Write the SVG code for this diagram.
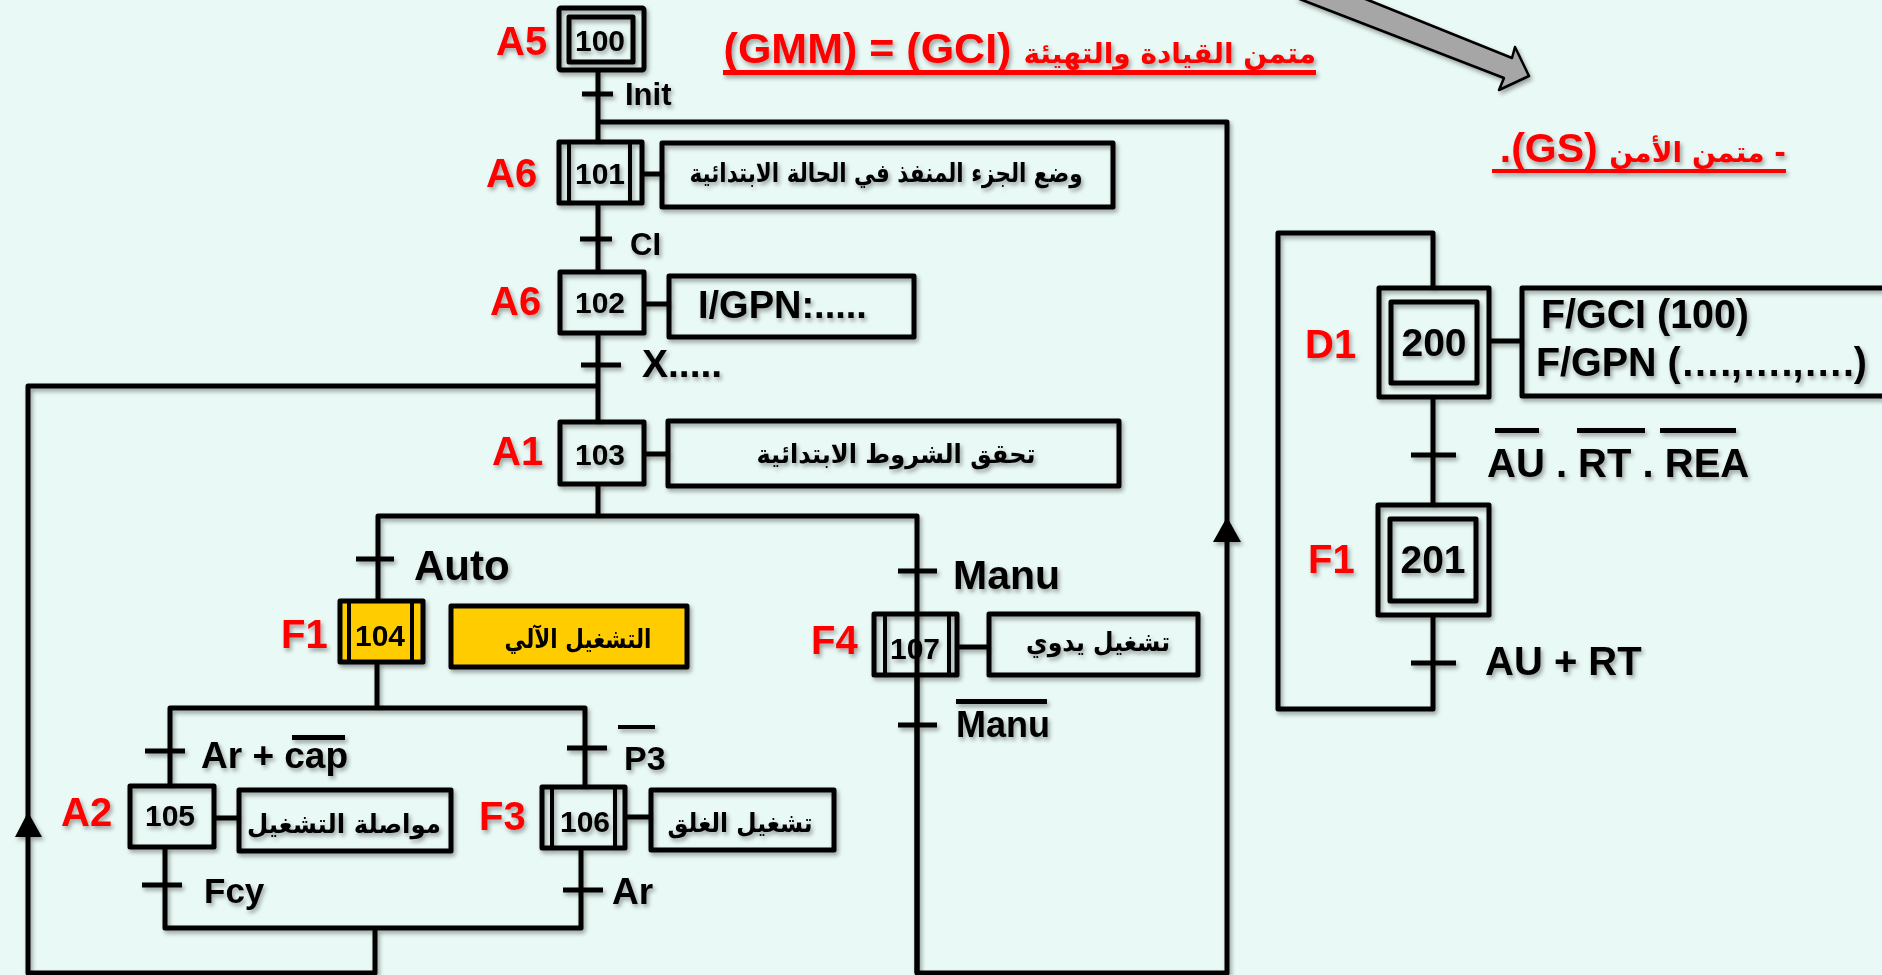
<svg xmlns="http://www.w3.org/2000/svg" width="1882" height="975" viewBox="0 0 1882 975">
<defs>
<filter id="shl" filterUnits="userSpaceOnUse" x="0" y="0" width="1882" height="975"><feDropShadow dx="2" dy="3" stdDeviation="2" flood-color="#000" flood-opacity="0.35"/></filter>
</defs>
<style>
.g{filter:url(#shl)}
.b{fill:none;stroke:#000;stroke-width:5;stroke-linejoin:round}
.y{fill:#FFCC00;stroke:#000;stroke-width:5;stroke-linejoin:round}
.l{fill:none;stroke:#000;stroke-width:5;stroke-linejoin:round}
.i{fill:none;stroke:#000;stroke-width:4}
text{font-family:"Liberation Sans","DejaVu Sans",sans-serif;font-weight:bold;fill:#000}
.n{font-size:30px;text-anchor:middle}
.N{font-size:39px;text-anchor:middle}
.r{font-size:40px;fill:#f00}
.ar{font-family:"DejaVu Sans",sans-serif;font-size:26px}
.arr{font-family:"DejaVu Sans",sans-serif;fill:#f00}
.ti{fill:#f00;text-anchor:start}
.t{font-size:31px}
.L{font-size:40px}
.ov{fill:#000}
.red{fill:#f00}
</style>
<rect width="1882" height="975" fill="#E9F9F5"/>
<g id="arrow-gs" class="g"><polygon points="1297,-2 1504,78 1499,90 1529,76 1515,47 1512,58 1363,-2" fill="#A6A6A6" stroke="#000" stroke-width="2.5" stroke-linejoin="round"/></g>
<g id="connectors" class="g">
<path class="l" d="M598 71V141M598 204V270M598 333V421M598 484V516M582 94H613M580 239H612M581 365H621"/>
<path class="l" d="M598 122H1227V973H917V516H378V599M377 663V708"/>
<path class="l" d="M598 386H28V973H375V928"/>
<path class="l" d="M170 784V708H585V786M165 847V928H581V849M356 559H394M145 751H185M567 748H607M142 885H182M563 890H603M917 676V973M898 571H937M898 725H937"/>
<path class="l" d="M642 174H662M644 304H669M644 454H668M214 818H238M626 817H650M958 647H988M1490 341H1521"/>
<path class="l" d="M1433 287V233H1278V709H1433V616M1433 398V504M1411 455H1456M1411 663H1456"/>
<polygon points="1227,517 1213,542 1241,542" fill="#000"/>
<polygon points="28,812 15,837 42,837" fill="#000"/>
</g>
<g id="title-gci" class="g"><text class="ti" direction="rtl" x="1316" y="63" font-size="43"><tspan class="arr" font-size="28">متمن القيادة والتهيئة</tspan> (GCI) = (GMM)</text><rect class="red" x="723" y="70" width="593" height="5"/></g>
<g id="title-gs" class="g"><text class="ti" direction="rtl" x="1786" y="162" font-size="41"><tspan class="arr" font-size="28">- متمن الأمن</tspan> (GS).</text><rect class="red" x="1492" y="169" width="294" height="4"/></g>
<g id="step-100" class="g"><rect class="b" x="559" y="8" width="85" height="62" rx="2"/><rect class="b" x="569" y="17" width="64" height="45" stroke-width="6"/><text class="n" x="600" y="51">100</text><text class="r" x="496" y="55">A5</text><text class="t" x="625" y="105">Init</text></g>
<g id="step-101" class="g"><rect class="b" x="559" y="142" width="83" height="61"/><path class="i" d="M569 142V203M630 142V203"/><text class="n" x="600" y="184">101</text><text class="r" x="486" y="187">A6</text><rect class="b" x="662" y="143" width="451" height="64"/><text class="ar" x="886" y="182" text-anchor="middle" textLength="393" lengthAdjust="spacingAndGlyphs">وضع الجزء المنفذ في الحالة الابتدائية</text><text class="t" x="630" y="255">CI</text></g>
<g id="step-102" class="g"><rect class="b" x="560" y="272" width="84" height="61"/><text class="n" x="600" y="313">102</text><text class="r" x="490" y="315">A6</text><rect class="b" x="669" y="276" width="245" height="61"/><text x="698" y="318" font-size="38">I/GPN:.....</text><text x="642" y="377" font-size="39">X.....</text></g>
<g id="step-103" class="g"><rect class="b" x="560" y="422" width="84" height="62"/><text class="n" x="600" y="465">103</text><text class="r" x="492" y="465">A1</text><rect class="b" x="668" y="421" width="451" height="65"/><text class="ar" x="896" y="463" text-anchor="middle" textLength="279" lengthAdjust="spacingAndGlyphs">تحقق الشروط الابتدائية</text></g>
<g id="step-104" class="g"><rect class="y" x="340" y="601" width="83" height="61"/><path class="i" d="M349 601V662M412 601V662"/><text class="n" x="380" y="646">104</text><text class="r" x="281" y="648">F1</text><rect class="y" x="451" y="606" width="236" height="61"/><text class="ar" x="578" y="648" text-anchor="middle" textLength="147" lengthAdjust="spacingAndGlyphs">التشغيل الآلي</text><text x="414" y="580" font-size="42">Auto</text></g>
<g id="step-105" class="g"><rect class="b" x="130" y="786" width="84" height="61"/><text class="n" x="170" y="826">105</text><text class="r" x="61" y="826">A2</text><rect class="b" x="239" y="790" width="212" height="61"/><text class="ar" x="344" y="833" text-anchor="middle" textLength="194" lengthAdjust="spacingAndGlyphs">مواصلة التشغيل</text><text x="201" y="768" font-size="37">Ar + cap</text><rect class="ov" x="292" y="735" width="53" height="5"/><text x="204" y="903" font-size="35">Fcy</text></g>
<g id="step-106" class="g"><rect class="b" x="542" y="787" width="83" height="61"/><path class="i" d="M552 787V848M615 787V848"/><text class="n" x="585" y="832">106</text><text class="r" x="479" y="830">F3</text><rect class="b" x="651" y="790" width="183" height="60"/><text class="ar" x="740" y="832" text-anchor="middle" textLength="145" lengthAdjust="spacingAndGlyphs">تشغيل الغلق</text><text x="624" y="770" font-size="34">P3</text><rect class="ov" x="618" y="725" width="37" height="4"/><text x="612" y="904" font-size="37">Ar</text></g>
<g id="step-107" class="g"><rect class="b" x="874" y="614" width="83" height="61"/><path class="i" d="M885 614V675M949 614V675"/><text class="n" x="915" y="659">107</text><text class="r" x="811" y="654">F4</text><rect class="b" x="989" y="614" width="209" height="61"/><text class="ar" x="1098" y="651" text-anchor="middle" textLength="144" lengthAdjust="spacingAndGlyphs">تشغيل يدوي</text><text x="953" y="589" font-size="41">Manu</text><text x="956" y="737" font-size="36">Manu</text><rect class="ov" x="956" y="699" width="91" height="5"/></g>
<g id="step-200" class="g"><rect class="b" x="1379" y="288" width="110" height="109"/><rect class="b" x="1391" y="302" width="86" height="81"/><text class="N" x="1434" y="356">200</text><text class="r" x="1305" y="358">D1</text><rect class="b" x="1522" y="288" width="370" height="108"/><text x="1541" y="328" class="L" textLength="208" lengthAdjust="spacingAndGlyphs">F/GCI (100)</text><text x="1536" y="376" class="L" textLength="331" lengthAdjust="spacingAndGlyphs">F/GPN (….,….,….)</text><text x="1487" y="477" class="L">AU . RT . REA</text><rect class="ov" x="1495" y="428" width="44" height="5"/><rect class="ov" x="1577" y="428" width="68" height="5"/><rect class="ov" x="1660" y="428" width="76" height="5"/></g>
<g id="step-201" class="g"><rect class="b" x="1378" y="505" width="111" height="110"/><rect class="b" x="1390" y="519" width="86" height="82"/><text class="N" x="1433" y="573">201</text><text class="r" x="1308" y="573">F1</text><text x="1485" y="675" class="L">AU + RT</text></g>
</svg>
